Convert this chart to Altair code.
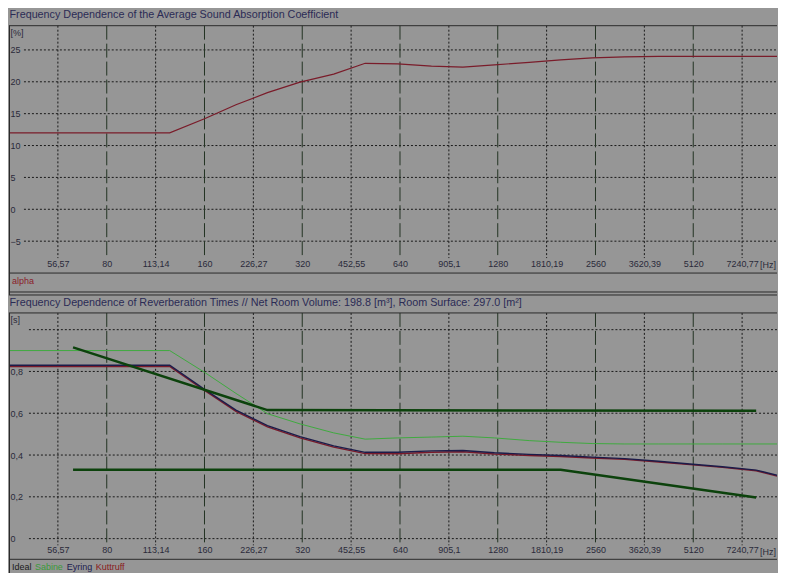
import altair as alt
import pandas as pd

# ---------------- data ----------------
half_octave_ticks = [56.57, 113.14, 226.27, 452.55, 905.1, 1810.19, 3620.39, 7240.77]
octave_ticks = [80, 160, 320, 640, 1280, 2560, 5120]
all_ticks = sorted(half_octave_ticks + octave_ticks)

freq = [40, 125, 160, 200, 250, 315, 400, 500, 630, 800, 1000, 1250, 1600,
        2000, 2500, 3150, 4000, 5000, 6300, 8000, 10000]
alpha = [12, 12, 14.2, 16.4, 18.3, 19.95, 21.2, 22.9, 22.8, 22.45, 22.3, 22.65,
         23.05, 23.45, 23.75, 23.9, 24.0, 24.0, 24.0, 24.0, 24.0]
sabine = [0.90, 0.90, 0.796, 0.695, 0.598, 0.549, 0.506, 0.476, 0.482, 0.486,
          0.490, 0.482, 0.469, 0.461, 0.455, 0.453, 0.453, 0.453, 0.453, 0.453, 0.453]
eyring = [0.83, 0.83, 0.714, 0.615, 0.541, 0.488, 0.444, 0.413, 0.413, 0.420,
          0.422, 0.411, 0.403, 0.398, 0.390, 0.383, 0.370, 0.357, 0.344, 0.328, 0.290]
kuttruff = [0.824, 0.824, 0.709, 0.609, 0.535, 0.482, 0.438, 0.407, 0.406, 0.413,
            0.416, 0.405, 0.398, 0.393, 0.386, 0.379, 0.367, 0.354, 0.341, 0.325, 0.286]
ideal_upper_freq = [63, 250, 8000]
ideal_upper = [0.915, 0.615, 0.612]
ideal_lower_freq = [63, 2000, 8000]
ideal_lower = [0.33, 0.33, 0.197]

alpha_grid = [-5, 0, 5, 10, 15, 20, 25]
rt_grid = [0, 0.2, 0.4, 0.6, 0.8, 1.0]
rt_labels = [0, 0.2, 0.4, 0.6, 0.8]

title1 = "Frequency Dependence of the Average Sound Absorption Coefficient"
title2 = ("Frequency Dependence of Reverberation Times // Net Room Volume: 198.8 [m³], "
          "Room Surface: 297.0 [m²]")

# ---------------- style ----------------
W = 770
H1 = 248
H2 = 247
GRID_END = 233
FONT = "Liberation Sans, Arial, sans-serif"
BG = "#969696"
TXT = "#2a2a3a"
TITLE_C = "#2b2b55"
LINE_C = "#2a2a2a"
SMALL = 9

x_scale = alt.Scale(type="log", domain=[40, 9273], nice=False)
x_axis = alt.Axis(orient="bottom", offset=-17, values=all_ticks, format=".2~f",
                  labelExpr="replace(datum.label, '.', ',')", labelFlush=False,
                  labelOverlap=False, domain=False, ticks=False, tickSize=0, grid=False,
                  labelPadding=3, labelFont=FONT, labelFontSize=SMALL, labelColor=TXT,
                  labelBaseline="top", title=None)
X = alt.X("f:Q", scale=x_scale, axis=x_axis)


def y_enc(domain, values, unit, fmt):
    return alt.Y("v:Q", scale=alt.Scale(domain=domain, nice=False, zero=False),
                 axis=alt.Axis(orient="left", offset=-1, values=values, format=fmt,
                               labelExpr="replace(datum.label, '.', ',')",
                               domain=False, ticks=False, tickSize=0, grid=False,
                               labelAlign="left", labelPadding=0, labelBaseline="middle",
                               labelFont=FONT, labelFontSize=SMALL, labelColor=TXT,
                               title=unit, titleAngle=0, titleAlign="left",
                               titleBaseline="top", titleX=0, titleY=3, titleFont=FONT,
                               titleFontSize=SMALL, titleFontWeight="normal", titleColor=TXT))


def vgrid():
    oct_df = pd.DataFrame({"f": octave_ticks})
    half_df = pd.DataFrame({"f": half_octave_ticks})
    a = alt.Chart(oct_df).mark_rule(color="#233323", strokeDash=[14, 4], strokeWidth=1).encode(
        x=X, y=alt.value(0), y2=alt.value(GRID_END))
    b = alt.Chart(half_df).mark_rule(color="#1a1a1a", strokeDash=[2, 2], strokeWidth=1).encode(
        x=X, y=alt.value(0), y2=alt.value(GRID_END))
    return [a, b]


def hgrid(vals, Y, x0):
    return alt.Chart(pd.DataFrame({"v": vals})).mark_rule(
        color="#1a1a1a", strokeDash=[2, 2], strokeWidth=1).encode(
        y=Y, x=alt.value(x0), x2=alt.value(W))


def hz_label():
    return alt.Chart(pd.DataFrame({"t": ["[Hz]"]})).mark_text(
        font=FONT, fontSize=SMALL, color=TXT, baseline="top", align="right").encode(
        x=alt.value(W - 1), y=alt.value(GRID_END + 3), text="t:N")


def frame(h, extra, seps):
    """panel border lines: top/bottom of the plot area, left edge, separators below"""
    horiz = alt.Chart(pd.DataFrame({"yy": [0, h] + [h + s for s in seps]})).mark_rule(
        color=LINE_C, strokeWidth=1).encode(
        y=alt.Y("yy:Q", scale=None), x=alt.value(0), x2=alt.value(W))
    left = alt.Chart(pd.DataFrame({"k": [0]})).mark_rule(color=LINE_C, strokeWidth=1).encode(
        x=alt.value(0.5), y=alt.value(0), y2=alt.value(h + extra))
    return [horiz, left]


def legend(h, label_fill):
    return alt.Legend(orient="none", legendX=3, legendY=h + 3, direction="horizontal",
                      title=None, symbolType="circle", symbolSize=0.01,
                      symbolStrokeWidth=0.01, symbolOpacity=0,
                      labelOffset={"expr": str(-SMALL)}, columnPadding=3, padding=0,
                      labelFont=FONT, labelFontSize=SMALL, labelLimit=200,
                      labelColor={"expr": label_fill})


# ---------------- panel 1 ----------------
Y1 = y_enc([-10, 28.8], alpha_grid, "[%]", "d")
df_alpha = pd.DataFrame({"f": freq, "v": alpha, "s": "alpha"})
alpha_line = alt.Chart(df_alpha).mark_line(clip=True, strokeWidth=1.2).encode(
    x=X, y=Y1,
    color=alt.Color("s:N", scale=alt.Scale(domain=["alpha"], range=["#7a1c2a"]),
                    legend=legend(H1, "'#8a1c2a'")))

TITLE_KW = dict(anchor="start", fontSize=10.8, font=FONT, fontWeight="normal",
                color=TITLE_C, offset=5, dx=1)

panel1 = alt.layer(hgrid(alpha_grid, Y1, 15), *vgrid(), alpha_line, hz_label(),
                   *frame(H1, 22, [19, 22])).properties(
    width=W, height=H1, title=alt.Title(title1, **TITLE_KW))

# ---------------- panel 2 ----------------
Y2 = y_enc([-0.099, 1.08], rt_labels, "[s]", ".1~f")
series_dom = ["Ideal", "Sabine", "Eyring", "Kuttruff"]
series_col = ["#0c420c", "#3faa3f", "#1c1c4a", "#7a1a2a"]
cscale = alt.Scale(domain=series_dom, range=series_col)
lab_fill = ("datum.value === 'Ideal' ? '#1a1a1a' : datum.value === 'Sabine' ? '#3a9a3a' : "
            "datum.value === 'Eyring' ? '#1c1c50' : '#8a1a1a'")
C = alt.Color("s:N", scale=cscale, legend=legend(H2, lab_fill))

df_sab = pd.DataFrame({"f": freq, "v": sabine, "s": "Sabine"})
df_kut = pd.DataFrame({"f": freq, "v": kuttruff, "s": "Kuttruff"})
df_eyr = pd.DataFrame({"f": freq, "v": eyring, "s": "Eyring"})
df_ideal = pd.concat([
    pd.DataFrame({"f": ideal_upper_freq, "v": ideal_upper, "s": "Ideal", "b": "upper"}),
    pd.DataFrame({"f": ideal_lower_freq, "v": ideal_lower, "s": "Ideal", "b": "lower"}),
])

sab_line = alt.Chart(df_sab).mark_line(clip=True, strokeWidth=1).encode(x=X, y=Y2, color=C)
kut_line = alt.Chart(df_kut).mark_line(clip=True, strokeWidth=1.4).encode(x=X, y=Y2, color=C)
eyr_line = alt.Chart(df_eyr).mark_line(clip=True, strokeWidth=1.4).encode(x=X, y=Y2, color=C)
ideal_line = alt.Chart(df_ideal).mark_line(clip=True, strokeWidth=2.5).encode(
    x=X, y=Y2, color=C, detail="b:N")

panel2 = alt.layer(hgrid(rt_grid, Y2, 20), *vgrid(), sab_line, kut_line, eyr_line,
                   ideal_line, hz_label(), *frame(H2, 14, [])).properties(
    width=W, height=H2, title=alt.Title(title2, **TITLE_KW))

chart = alt.vconcat(panel1, panel2, spacing=0).resolve_scale(
    color="independent", y="independent").resolve_legend(color="independent").properties(
    padding=0, background=BG).configure_view(stroke=None)

chart.save("out.html", embed_options={"renderer": "svg", "actions": False})
